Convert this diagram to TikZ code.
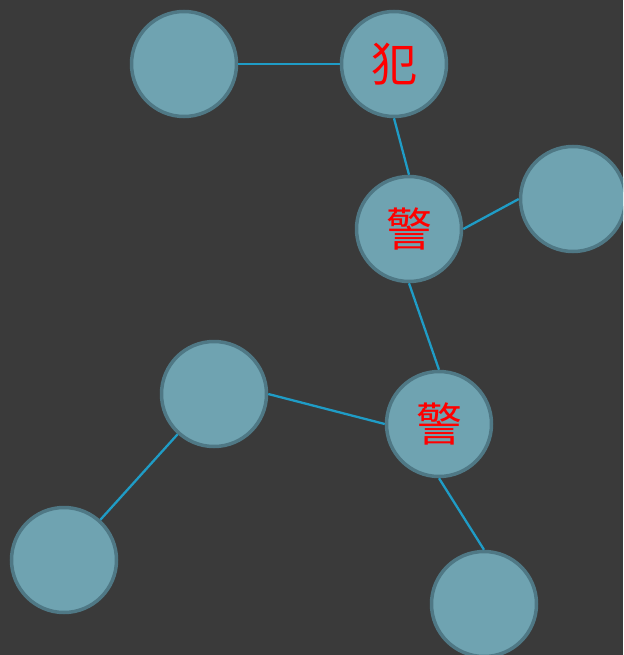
\documentclass[tikz,border=0pt]{standalone}
\usepackage{fontspec}
\newfontfamily\cjk{Noto Sans CJK SC}
\definecolor{bgc}{HTML}{3A3A3A}
\definecolor{nfill}{HTML}{6FA3B1}
\definecolor{nborder}{HTML}{4F7885}
\definecolor{edgec}{HTML}{1F9CC6}
\begin{document}
\begin{tikzpicture}[x=1pt,y=-1pt,
  vtx/.style={circle,draw=nborder,line width=3.5pt,fill=nfill,minimum size=105pt,inner sep=0pt,
    font=\cjk\fontsize{46}{46}\selectfont,text=red},
  edge/.style={draw=edgec,line width=2.3pt}]
\fill[bgc] (0,0) rectangle (623,655);
\useasboundingbox (0,0) rectangle (623,655);
\begin{scope}
\clip (0,0) rectangle (623,655);
\node[vtx] (a) at (184,64) {};
\node[vtx] (b) at (394,64) {犯};
\node[vtx] (c) at (409,229) {警};
\node[vtx] (d) at (573,199) {};
\node[vtx] (e) at (214,394) {};
\node[vtx] (f) at (439,424) {警};
\node[vtx] (g) at (64,560) {};
\node[vtx] (h) at (484,604) {};
\draw[edge] (a.east) -- (b.west);
\draw[edge] (b.south) -- (c.north);
\draw[edge] (c.east) -- (d.west);
\draw[edge] (c.south) -- (f.north);
\draw[edge] (e.east) -- (f.west);
\draw[edge] (e) -- (g);
\draw[edge] (f.south) -- (h.north);
\end{scope}
\end{tikzpicture}
\end{document}
